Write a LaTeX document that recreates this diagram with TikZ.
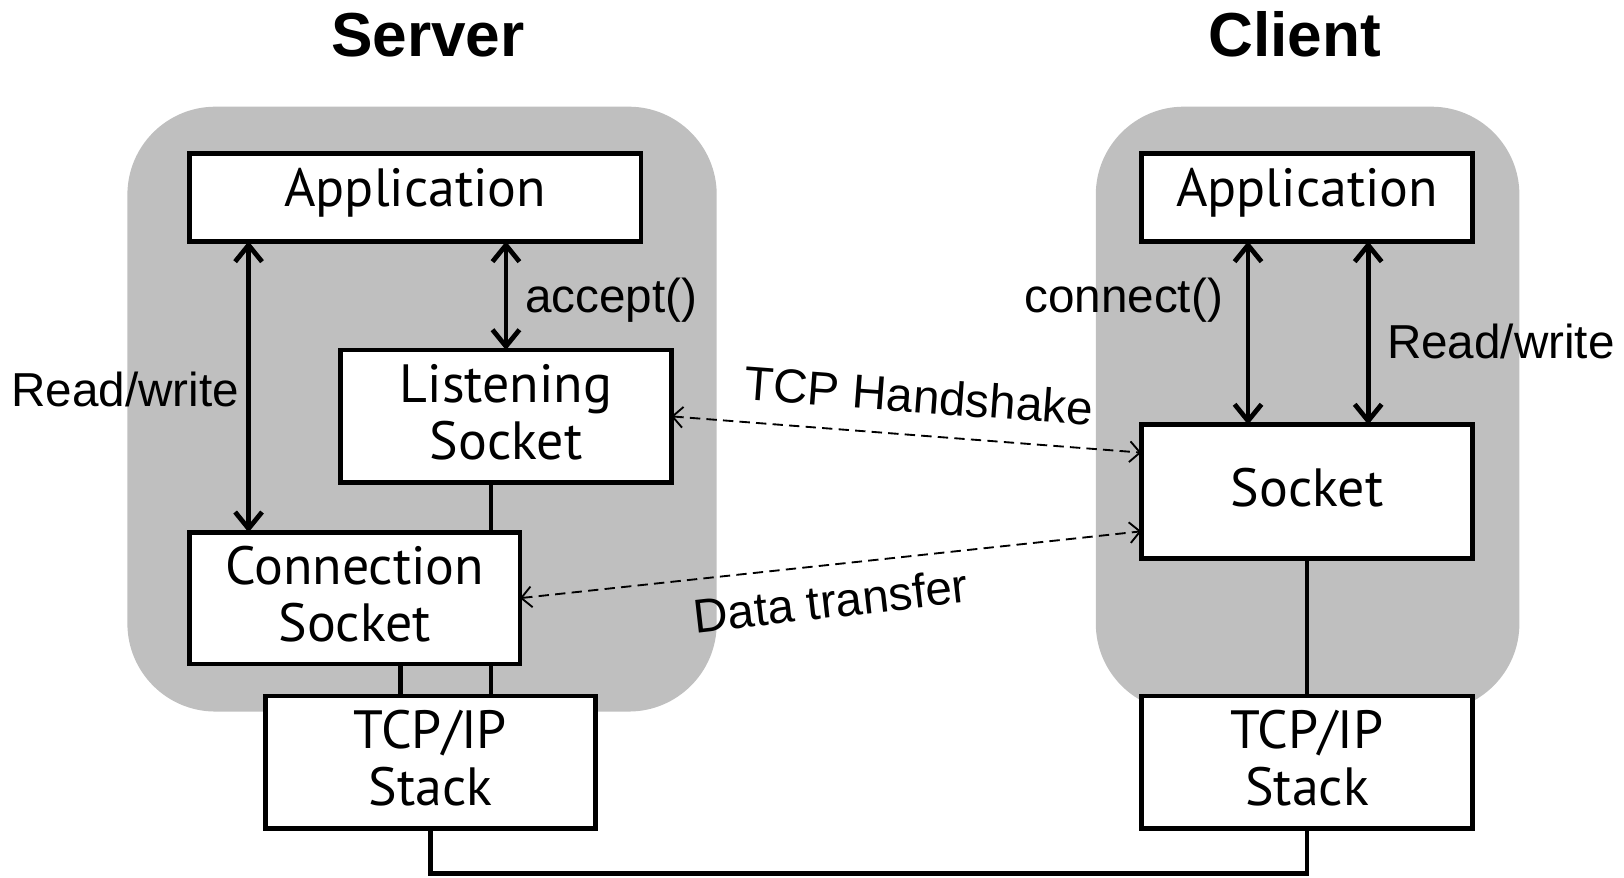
\documentclass[tikz,border=0pt]{standalone}
\usepackage{fontspec}
\setmainfont{Liberation Sans}
\newfontfamily\boxfont{PT Sans}
\usetikzlibrary{arrows.meta,calc}
\definecolor{panelgray}{RGB}{191,191,191}
\begin{document}
\begin{tikzpicture}[x=1pt,y=-1pt,
  panel/.style={fill=panelgray, rounded corners=85pt},
  boxtext/.style={inner sep=0pt, align=center, yshift=4pt,
    font=\boxfont\fontsize{52}{55}\selectfont},
  box/.style={draw, line width=4.6pt, fill=white, inner sep=0pt, outer sep=0pt,
    label={[boxtext]center:#1}},
  wire/.style={line width=4.6pt},
  link/.style={line width=4.6pt,
    {Straight Barb[length=16pt,width=26pt]}-{Straight Barb[length=16pt,width=26pt]}},
  dlink/.style={line width=1.8pt, dash pattern=on 10pt off 6pt,
    {Straight Barb[length=10pt,width=20pt]}-{Straight Barb[length=10pt,width=20pt]}},
  lbl/.style={inner sep=0pt, font=\fontsize{46}{54}\selectfont},
  title/.style={inner sep=0pt, font=\bfseries\fontsize{60}{72}\selectfont}]
\useasboundingbox (0,0) rectangle (1568,847);

% host panels
\fill[panel] (123,103) rectangle (692,687);
\fill[panel] (1058,103) rectangle (1467,687);

% titles
\node[title, anchor=base] (tserver) at (413,55) {Server};
\node[title, anchor=base] (tclient) at (1250,55) {Client};

% boxes
\node[box={Application}, minimum width=436pt, minimum height=85pt] (sapp) at (401,190.5) {};
\node[box={Listening\\Socket}, minimum width=319pt, minimum height=128pt] (sls) at (488.5,402) {};
\node[box={TCP/IP\\Stack}, minimum width=319pt, minimum height=128pt] (stcp) at (415.5,736) {};
\node[box={Application}, minimum width=320pt, minimum height=85pt] (capp) at (1262,190.5) {};
\node[box={Socket}, minimum width=320pt, minimum height=129pt] (csock) at (1262,474.5) {};
\node[box={TCP/IP\\Stack}, minimum width=320pt, minimum height=128pt] (ctcp) at (1262,736) {};

% helper columns
\coordinate (lx) at (474,0);
\coordinate (kx) at (387,0);
\coordinate (rwx) at (240,0);
\coordinate (cax) at (1205,0);
\coordinate (cbx) at (1321,0);
\coordinate (bot) at (0,843);

% wires behind the connection socket
\draw[wire] (sls.south -| lx) -- (stcp.north -| lx);
\draw[wire] (csock.south) -- (ctcp.north);
\draw[wire] (stcp.south) -- (stcp.south |- bot) -| (ctcp.south);

\node[box={Connection\\Socket}, minimum width=319pt, minimum height=127pt] (scs) at (342.5,577.5) {};
\draw[wire] (scs.south -| kx) -- (stcp.north -| kx);
\draw[wire] (scs.south -| lx) -- (stcp.north -| lx);
\draw[wire] (sls.south -| lx) -- (scs.north -| lx);

% API calls
\draw[link] (sapp.south -| rwx) -- (scs.north -| rwx);
\draw[link] (sapp.south -| sls.north) -- (sls.north);
\draw[link] (capp.south -| cax) -- (csock.north -| cax);
\draw[link] (capp.south -| cbx) -- (csock.north -| cbx);

\node[lbl, anchor=base east] (lrw) at (231,392) {Read/write};
\node[lbl, anchor=base west] (lacc) at (507,302) {accept()};
\node[lbl, anchor=base east] (lcon) at (1181,302) {connect()};
\node[lbl, anchor=base west] (lcrw) at (1339,346) {Read/write};

% network exchange
\coordinate (hs) at ($(csock.west)+(0,-37.5)$);
\coordinate (dt) at ($(csock.west)+(0,38.5)$);
\draw[dlink] (sls.east) -- (hs);
\draw[dlink] (scs.east) -- (dt);
\node[lbl, rotate=-4.3] (lhs) at (887,382) {TCP Handshake};
\node[lbl, rotate=6.5] (ldt) at (802,580) {Data transfer};
\end{tikzpicture}
\end{document}
